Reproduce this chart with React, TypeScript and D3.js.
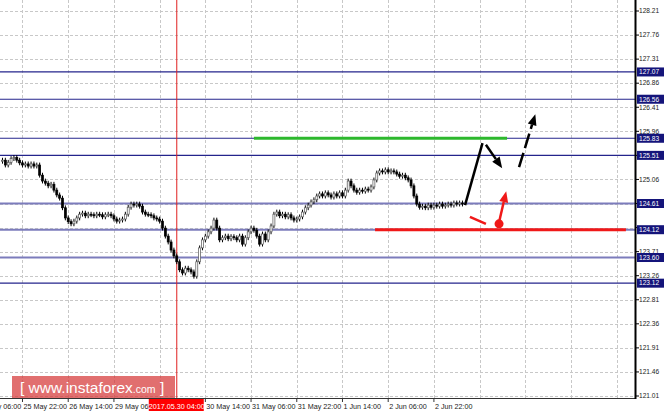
import * as d3 from "d3";

// hourly closes, 25 May 06:00 onward
const closes = [
  125.42, 125.33, 125.38, 125.45, 125.47, 125.42, 125.37, 125.33, 125.35, 125.31,
  125.35, 125.31, 125.33, 125.14, 125.03, 124.99, 124.94, 124.97, 124.86, 124.77,
  124.71, 124.53, 124.34, 124.27, 124.23, 124.28, 124.34, 124.41, 124.43, 124.38,
  124.41, 124.40, 124.38, 124.41, 124.40, 124.36, 124.40, 124.41, 124.38, 124.32,
  124.28, 124.30, 124.32, 124.41, 124.54, 124.60, 124.58, 124.60, 124.56, 124.45,
  124.41, 124.40, 124.38, 124.34, 124.32, 124.28, 124.15, 124.00, 123.89, 123.74,
  123.63, 123.52, 123.37, 123.31, 123.40, 123.37, 123.33, 123.25, 123.52, 123.78,
  123.93, 124.00, 124.08, 124.15, 124.30, 124.15, 123.93, 123.97, 124.00, 123.95,
  123.99, 123.97, 123.93, 124.00, 123.85, 123.97, 124.08, 124.15, 124.11, 124.00,
  123.85, 124.04, 123.93, 124.08, 124.19, 124.41, 124.45, 124.38, 124.41, 124.36,
  124.40, 124.34, 124.30, 124.32, 124.36, 124.45, 124.53, 124.58, 124.64, 124.68,
  124.75, 124.79, 124.75, 124.81, 124.77, 124.73, 124.79, 124.75, 124.81, 124.75,
  124.86, 125.03, 124.94, 124.86, 124.82, 124.86, 124.84, 124.88, 124.86, 124.92,
  125.05, 125.18, 125.22, 125.20, 125.24, 125.20, 125.22, 125.20, 125.16, 125.12,
  125.14, 125.09, 125.05, 124.94, 124.75, 124.60, 124.54, 124.56, 124.53, 124.58,
  124.54, 124.58, 124.56, 124.60, 124.56, 124.58, 124.60, 124.58, 124.62, 124.60,
  124.62, 124.60,
];
const firstOpen = 125.40;
const wick = 0.045;

const priceTicks = [
  121.01, 121.46, 121.91, 122.36, 122.81, 123.26, 123.71, 124.16, 124.61,
  125.06, 125.51, 125.96, 126.41, 126.86, 127.31, 127.76, 128.21,
];
const levels = [127.07, 126.56, 125.83, 125.51, 124.61, 124.12, 123.6, 123.12];
const lightLevels = [124.61, 124.12, 123.6];

// bar index of each time label (16 hours apart)
const timeTicks = [-9, 7, 23, 39, 55, 71, 87, 103, 119, 135, 151, 167, 183, 199, 215];
const timeLabels = [
  "25 May 06:00", "25 May 22:00", "26 May 14:00", "29 May 06:00", "",
  "30 May 14:00", "31 May 06:00", "31 May 22:00", "1 Jun 14:00", "2 Jun 06:00",
  "2 Jun 22:00",
];
const cursorBar = 61;
const cursorLabel = "2017.05.30 04:00";

// forecast marks: [bar, price]
const greenZone = { from: 88, to: 176.6, price: 125.83 };
const redZone = { from: 130.4, to: 218.2, price: 124.12 };
const upLeg: [number, number][] = [[161.9, 124.58], [168, 125.74]];
const downArrow: [number, number][] = [[169.2, 125.71], [174.9, 125.27]];
const dashedArrow: [number, number][] = [[180.8, 125.29], [186.5, 126.28]];
const redDash: [number, number][] = [[163.6, 124.36], [169.2, 124.23]];
const redDot: [number, number] = [173.8, 124.23];
const redArrow: [number, number][] = [[173.8, 124.26], [176.3, 124.84]];

const width = 664;
const height = 414;
const plotRight = 635;
const plotBottom = 398;

const x = d3.scaleLinear([0, 1], [2.5, 2.5 + 2.857]);
const y = d3.scaleLinear([121.01, 128.21], [396, 11]);

const font = "'Liberation Sans', Arial, sans-serif";

function Arrow({ pts, color, dash }: { pts: [number, number][]; color: string; dash?: string }) {
  const [x0, y0] = [x(pts[0][0]), y(pts[0][1])];
  const [x1, y1] = [x(pts[1][0]), y(pts[1][1])];
  const a = Math.atan2(y1 - y0, x1 - x0);
  const len = 11;
  const half = 4.5;
  const bx = x1 - len * Math.cos(a);
  const by = y1 - len * Math.sin(a);
  const head = [
    [x1, y1],
    [bx + half * Math.sin(a), by - half * Math.cos(a)],
    [bx - half * Math.sin(a), by + half * Math.cos(a)],
  ];
  return (
    <g>
      <line x1={x0} y1={y0} x2={bx} y2={by} stroke={color} strokeWidth={2.5} strokeDasharray={dash} />
      <polygon points={head.map((p) => p.join(",")).join(" ")} fill={color} />
    </g>
  );
}

export default function App() {
  const bars = closes.map((c, i) => {
    const o = i === 0 ? firstOpen : closes[i - 1];
    return { i, o, c, h: Math.max(o, c) + wick, l: Math.min(o, c) - wick };
  });

  // tick labels hidden behind a level box
  const shownTicks = priceTicks.filter((p) => !levels.some((l) => Math.abs(y(l) - y(p)) < 4));

  return (
    <svg
      width={width}
      height={height}
      style={{ position: "absolute", left: 0, top: 0, background: "#fff" }}
      fontFamily={font}
    >
      {/* grid */}
      <g stroke="#c8c8c8" strokeDasharray="3,2" strokeWidth={1}>
        {priceTicks.map((p) => (
          <line key={p} x1={0} x2={plotRight} y1={Math.round(y(p)) + 0.5} y2={Math.round(y(p)) + 0.5} />
        ))}
        {timeTicks.filter((t) => x(t) > 0).map((t) => (
          <line key={t} x1={Math.round(x(t)) + 0.5} x2={Math.round(x(t)) + 0.5} y1={0} y2={plotBottom} />
        ))}
      </g>

      {/* levels */}
      {levels.map((p) => {
        const light = lightLevels.includes(p);
        return (
          <line
            key={p}
            x1={0}
            x2={plotRight}
            y1={y(p)}
            y2={y(p)}
            stroke={light ? "#7c7cbc" : "#24248c"}
            strokeWidth={light ? 2 : 1.2}
          />
        );
      })}

      {/* cursor */}
      <line x1={x(cursorBar)} x2={x(cursorBar)} y1={0} y2={plotBottom} stroke="#e02020" strokeWidth={1} />

      {/* candles */}
      <g>
        {bars.map((b) => {
          const cx = x(b.i);
          const up = b.c >= b.o;
          const top = y(Math.max(b.o, b.c));
          const bh = Math.max(1, y(Math.min(b.o, b.c)) - top);
          return (
            <g key={b.i}>
              <line x1={cx} x2={cx} y1={y(b.h)} y2={y(b.l)} stroke="#000" strokeWidth={1} />
              <rect
                x={cx - 1}
                y={top}
                width={2}
                height={bh}
                fill={up ? "#fff" : "#000"}
                stroke={up ? "#555" : "#000"}
                strokeWidth={0.7}
              />
            </g>
          );
        })}
      </g>

      {/* forecast */}
      <line x1={x(greenZone.from)} x2={x(greenZone.to)} y1={y(greenZone.price)} y2={y(greenZone.price)} stroke="#2db82d" strokeWidth={3} />
      <line x1={x(redZone.from)} x2={x(redZone.to)} y1={y(redZone.price)} y2={y(redZone.price)} stroke="#f01818" strokeWidth={3} />
      <line x1={x(upLeg[0][0])} y1={y(upLeg[0][1])} x2={x(upLeg[1][0])} y2={y(upLeg[1][1])} stroke="#000" strokeWidth={2.5} />
      <Arrow pts={downArrow} color="#000" />
      <Arrow pts={dashedArrow} color="#000" dash="15,5" />
      <line x1={x(redDash[0][0])} y1={y(redDash[0][1])} x2={x(redDash[1][0])} y2={y(redDash[1][1])} stroke="#f01818" strokeWidth={2.5} />
      <circle cx={x(redDot[0])} cy={y(redDot[1])} r={4.5} fill="#f01818" />
      <Arrow pts={redArrow} color="#f01818" />

      {/* axes */}
      <line x1={0} x2={plotRight} y1={plotBottom + 0.5} y2={plotBottom + 0.5} stroke="#333" strokeWidth={1} />
      <line x1={plotRight + 0.5} x2={plotRight + 0.5} y1={0} y2={plotBottom + 1} stroke="#000" strokeWidth={2} />
      <g fontSize={6.6} fill="#222">
        {priceTicks.map((p) => (
          <line key={p} x1={plotRight} x2={plotRight + 4} y1={y(p)} y2={y(p)} stroke="#000" />
        ))}
        {shownTicks.map((p) => (
          <text key={p} x={639} y={y(p) + 2.3}>{p.toFixed(2)}</text>
        ))}
      </g>
      <g fontSize={6.6}>
        {levels.map((p) => (
          <g key={p}>
            <rect x={637} y={y(p) - 4.5} width={27} height={9} fill="#14147a" />
            <text x={639} y={y(p) + 2.3} fill="#fff">{p.toFixed(2)}</text>
          </g>
        ))}
      </g>
      <g fontSize={7.2} fill="#222">
        {timeLabels.map((t, k) => (
          <g key={k}>
            <line x1={x(timeTicks[k])} x2={x(timeTicks[k])} y1={plotBottom} y2={plotBottom + 4} stroke="#333" />
            {t && <text x={x(timeTicks[k]) + 1} y={409}>{t}</text>}
          </g>
        ))}
      </g>
      <rect x={x(cursorBar) - 28} y={399} width={55} height={12} fill="#ff0000" />
      <text x={x(cursorBar)} y={408.5} fontSize={7.2} fill="#fff" textAnchor="middle">{cursorLabel}</text>

      {/* watermark */}
      <rect x={12} y={376} width={163} height={22} fill="rgb(214,56,56)" opacity={0.72} />
      <text x={20} y={393} fill="#fff" fontSize={15.5}>
        [ www.instaforex<tspan fontSize={10.5}>.com</tspan> ]
      </text>
    </svg>
  );
}
